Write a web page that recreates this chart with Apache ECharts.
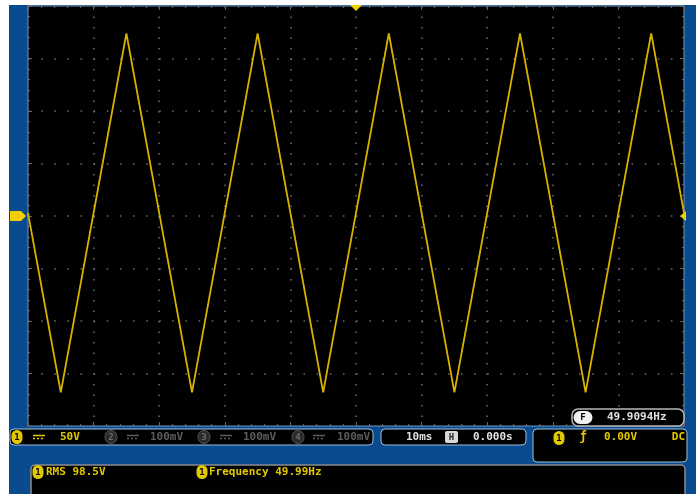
<!DOCTYPE html>
<html><head><meta charset="utf-8">
<script src="https://cdn.jsdelivr.net/npm/echarts@6/dist/echarts.min.js"></script>
<style>
html,body{margin:0;padding:0;background:#fff;}
#bg{position:absolute;left:9px;top:5px;width:687px;height:489px;background:#0a4a8e;}
#c{position:absolute;left:0;top:0;width:696px;height:494px;}
</style>
</head><body><div id="bg"></div><div id="c"></div>
<script>
// ---- data ----
const timeMs = [-50, -45, -35, -25, -15, -5, 5, 15, 25, 35, 45, 50];
const ch1Volts = [3, -168, 174, -168, 174, -168, 174, -168, 174, -168, 174, 3];
const xRange = [-50, 50];      // 10 ms/div, 10 divisions
const yRange = [-200, 200];    // 50 V/div, 8 divisions
const chScales = ['50V', '100mV', '100mV', '100mV'];
const timebase = '10ms';
const hPosition = '0.000s';
const trigLevel = '0.00V';
const trigCoupling = 'DC';
const freqCounter = '49.9094Hz';
const measRms = 'RMS 98.5V';
const measFreq = 'Frequency 49.99Hz';

const YEL = '#e2c800', TRACE = '#d9b300', GRAYTXT = '#5c5c5c', WHITE = '#e0e0e0';
const FONT = '"DejaVu Sans Mono", monospace';

const chart = echarts.init(document.getElementById('c'), null, {renderer: 'canvas'});
const gridL = 28, gridT = 6, gridW = 656, gridH = 420;

function dotted(len) { return [1.6, len - 1.6]; }
const xDiv = gridW / 10, yDiv = gridH / 8;

const tickStyle = {show: true, inside: true, length: 4, lineStyle: {color: '#666', width: 1}};
const minorStyle = {show: true, splitNumber: 5, length: 2, lineStyle: {color: '#666', width: 1}};
const noLine = {show: false, onZero: false};

const option = {
  animation: false,
  backgroundColor: 'transparent',
  grid: {left: gridL, top: gridT, width: gridW, height: gridH, show: true,
         backgroundColor: '#000', borderColor: '#6f98c0', borderWidth: 1},
  xAxis: [
    {type: 'value', min: xRange[0], max: xRange[1], interval: 10,
     axisLine: noLine, axisLabel: {show: false},
     axisTick: tickStyle, minorTick: minorStyle,
     splitLine: {show: true, lineStyle: {color: '#6a6a6a', width: 1.6, type: dotted(yDiv / 5)}}},
    {type: 'value', position: 'top', min: xRange[0], max: xRange[1], interval: 10,
     axisLine: noLine, axisLabel: {show: false},
     axisTick: tickStyle, minorTick: minorStyle, splitLine: {show: false}}
  ],
  yAxis: [
    {type: 'value', min: yRange[0], max: yRange[1], interval: 50,
     axisLine: noLine, axisLabel: {show: false},
     axisTick: tickStyle, minorTick: minorStyle,
     splitLine: {show: true, lineStyle: {color: '#6a6a6a', width: 1.6, type: dotted(xDiv / 5)}}},
    {type: 'value', position: 'right', min: yRange[0], max: yRange[1], interval: 50,
     axisLine: noLine, axisLabel: {show: false},
     axisTick: tickStyle, minorTick: minorStyle, splitLine: {show: false}}
  ],
  series: [{
    type: 'line', data: timeMs.map((t, i) => [t, ch1Volts[i]]),
    showSymbol: false, lineStyle: {color: TRACE, width: 1.8}, z: 5
  }]
};
chart.setOption(option);

// ---- decorations (scope UI) ----
function box(x, y, w, h, r, fill, stroke, lw) {
  return {type: 'rect', z: 100, shape: {x, y, width: w, height: h, r},
          style: {fill, stroke, lineWidth: lw || 1}};
}
function txt(x, y, s, color, size, align) {
  return {type: 'text', z: 110, x, y,
          style: {text: s, fill: color, font: 'bold ' + (size || 11) + 'px ' + FONT,
                  textAlign: align || 'left', textVerticalAlign: 'middle'}};
}
function badge(cx, cy, w, h, fill, label, labelColor, stroke) {
  return [
    {type: 'rect', z: 105, shape: {x: cx - w / 2, y: cy - h / 2, width: w, height: h, r: Math.min(w, h) / 2},
     style: {fill, stroke: stroke || null, lineWidth: 1}},
    {type: 'text', z: 110, x: cx, y: cy + 0.5,
     style: {text: label, fill: labelColor, font: 'bold 9px ' + FONT, textAlign: 'center', textVerticalAlign: 'middle'}}
  ];
}
function dcSym(x, y, color) {
  return [
    {type: 'line', z: 110, shape: {x1: x, y1: y - 1.5, x2: x + 12, y2: y - 1.5}, style: {stroke: color, lineWidth: 1.5}},
    {type: 'line', z: 110, shape: {x1: x, y1: y + 1.5, x2: x + 12, y2: y + 1.5}, style: {stroke: color, lineWidth: 1.5, lineDash: [2, 2]}}
  ];
}

const zeroPt = chart.convertToPixel({gridIndex: 0}, [0, 0]);
const gEls = [];
// status bar boxes
gEls.push(box(10, 429, 363, 16, 4, '#000', '#9cc0dc', 1));
gEls.push(box(381, 429, 145, 16, 4, '#000', '#9cc0dc', 1));
gEls.push(box(533, 429, 154, 33, 4, '#000', '#9cc0dc', 1));
gEls.push(box(31, 465, 654, 40, 4, '#000', '#8c8c8c', 1.5));
gEls.push(box(572, 409, 112, 17, 6, '#000', '#b8b8b8', 1.5));

// channel 1
gEls.push(...badge(17, 437, 11, 14, YEL, '1', '#000'));
gEls.push(...dcSym(33, 437, YEL));
gEls.push(txt(60, 437, chScales[0], YEL));
// channels 2-4 (dim)
[[111, 127, 150, 2], [204, 220, 243, 3], [298, 313, 337, 4]].forEach(([bx, dx, tx, n]) => {
  gEls.push(...badge(bx, 437, 12, 13, '#2a2a2a', String(n), '#6a6a6a', '#555'));
  gEls.push(...dcSym(dx, 437, GRAYTXT));
  gEls.push(txt(tx, 437, chScales[n - 1], GRAYTXT));
});
// timebase
gEls.push(txt(406, 437, timebase, WHITE));
gEls.push({type: 'rect', z: 105, shape: {x: 445, y: 431, width: 13, height: 12, r: 2}, style: {fill: '#d8d8d8'}});
gEls.push(txt(451.5, 437.5, 'H', '#222', 9, 'center'));
gEls.push(txt(473, 437, hPosition, WHITE));
// trigger
gEls.push(...badge(559, 438, 11, 14, YEL, '1', '#000'));
gEls.push(txt(583, 437, 'ƒ', YEL, 12, 'center'));
gEls.push(txt(604, 437, trigLevel, YEL));
gEls.push(txt(685, 437, trigCoupling, YEL, 11, 'right'));
// frequency counter
gEls.push(...badge(583, 417.5, 19, 13, '#f0f0f0', 'F', '#000'));
gEls.push(txt(607, 417.5, freqCounter, WHITE));
// measurements
gEls.push(...badge(38, 472, 11, 14, YEL, '1', '#000'));
gEls.push(txt(46, 472, measRms, YEL));
gEls.push(...badge(202, 472, 11, 14, YEL, '1', '#000'));
gEls.push(txt(209, 472, measFreq, YEL));

// markers: trigger position (top), ground level (left), trigger level (right)
gEls.push({type: 'polygon', z: 120, shape: {points: [[zeroPt[0] - 6, 5], [zeroPt[0] + 6, 5], [zeroPt[0], 11]]}, style: {fill: '#f2d000'}});
gEls.push({type: 'polygon', z: 120, shape: {points: [[10, zeroPt[1] - 5], [21, zeroPt[1] - 5], [26, zeroPt[1]], [21, zeroPt[1] + 5], [10, zeroPt[1] + 5]]}, style: {fill: '#f2d000'}});
gEls.push(txt(16, zeroPt[1] + 0.5, '1', '#000', 8, 'center'));
gEls.push({type: 'polygon', z: 120, shape: {points: [[680, zeroPt[1]], [686, zeroPt[1] - 5], [686, zeroPt[1] + 5]]}, style: {fill: '#f2d000'}});

chart.setOption({graphic: {elements: gEls}});
</script>
</body></html>
